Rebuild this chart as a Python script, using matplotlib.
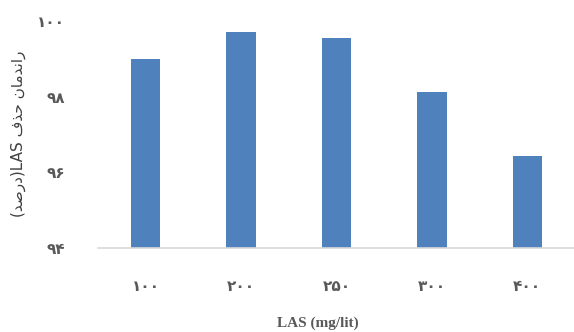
import matplotlib
matplotlib.use("Agg")
import matplotlib.pyplot as plt

# data
concentrations = ["۱۰۰", "۲۰۰", "۲۵۰", "۳۰۰", "۴۰۰"]
removal = [99.0, 99.72, 99.56, 98.12, 96.42]
y_ticks = [94, 96, 98, 100]
y_tick_labels = ["۹۴", "۹۶", "۹۸", "۱۰۰"]

# minimal arabic shaping (matplotlib has no bidi / joining support)
FORMS = {  # isolated, final, initial, medial
    "ا": ("\ufe8d", "\ufe8e", None, None),
    "د": ("\ufea9", "\ufeaa", None, None),
    "ذ": ("\ufeab", "\ufeac", None, None),
    "ر": ("\ufead", "\ufeae", None, None),
    "ح": ("\ufea1", "\ufea2", "\ufea3", "\ufea4"),
    "ص": ("\ufeb9", "\ufeba", "\ufebb", "\ufebc"),
    "ف": ("\ufed1", "\ufed2", "\ufed3", "\ufed4"),
    "م": ("\ufee1", "\ufee2", "\ufee3", "\ufee4"),
    "ن": ("\ufee5", "\ufee6", "\ufee7", "\ufee8"),
}


def shape(word):
    out = []
    for i, ch in enumerate(word):
        prev_joins = i > 0 and FORMS[word[i - 1]][2] is not None
        next_exists = i < len(word) - 1
        iso, fin, ini, med = FORMS[ch]
        can_fwd = ini is not None and next_exists
        if prev_joins and can_fwd:
            out.append(med)
        elif prev_joins:
            out.append(fin)
        elif can_fwd:
            out.append(ini)
        else:
            out.append(iso)
    return "".join(reversed(out))


ylabel = "(" + shape("درصد") + ")LAS " + shape("حذف") + " " + shape("راندمان")

plt.rcParams["font.family"] = ["DejaVu Sans"]

fig = plt.figure(figsize=(5.74, 3.32), dpi=100)
ax = fig.add_axes([98 / 574, 84 / 332, 477 / 574, 227 / 332])

x = range(len(removal))
ax.bar(x, removal, width=0.31, color="#4F81BD")
ax.set_ylim(94, 100)
ax.set_xlim(-0.5, len(removal) - 0.5)

ax.set_yticks(y_ticks)
ax.set_yticklabels(y_tick_labels, fontsize=11, fontweight="bold", color="#595959")
ax.set_xticks(list(x))
ax.set_xticklabels(concentrations, fontsize=11, fontweight="bold", color="#595959")
ax.tick_params(axis="y", length=0, pad=24)
ax.tick_params(axis="x", length=0, pad=22)

for s in ["top", "right", "left"]:
    ax.spines[s].set_visible(False)
ax.spines["bottom"].set_color("#D9D9D9")
ax.spines["bottom"].set_linewidth(1.2)

fig.text(18 / 574, 1 - 134 / 332, ylabel, rotation=90, ha="center", va="center",
         fontsize=11, color="#404040")
fig.text(318 / 574, 1 - 323 / 332, "LAS (mg/lit)", ha="center", va="center",
         fontsize=11, fontweight="bold", color="#595959", family="Liberation Serif")

fig.savefig("out.png", dpi=100)
